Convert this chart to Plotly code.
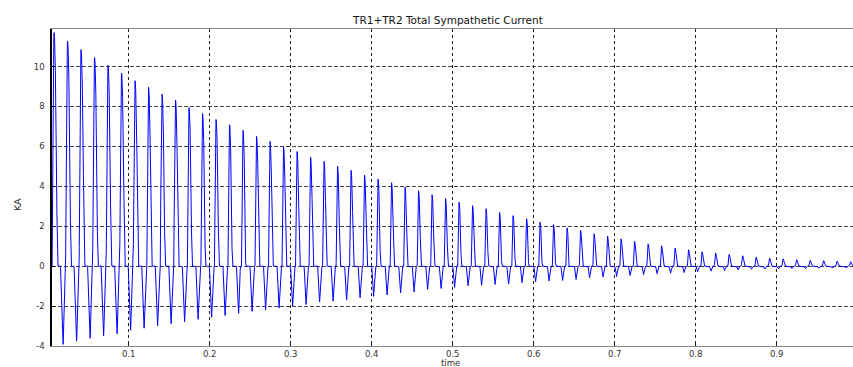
import numpy as np
import plotly.graph_objects as go

# Peak of each positive lobe, one per 60 Hz cycle (kA)
pos_peak = [11.70, 11.28, 10.85, 10.45, 10.06, 9.67, 9.29, 8.96, 8.62, 8.31,
            7.95, 7.65, 7.35, 7.09, 6.80, 6.50, 6.25, 5.98, 5.74, 5.46,
            5.25, 5.01, 4.80, 4.56, 4.36, 4.18, 3.96, 3.78, 3.58, 3.39,
            3.21, 3.03, 2.88, 2.69, 2.53, 2.38, 2.21, 2.08, 1.92, 1.79,
            1.62, 1.50, 1.37, 1.24, 1.12, 1.02, 0.90, 0.82, 0.72, 0.65,
            0.59, 0.52, 0.45, 0.40, 0.37, 0.32, 0.29, 0.27, 0.25, 0.22]

# Peak of each negative lobe, one per cycle (kA)
neg_peak = [-3.92, -3.76, -3.62, -3.49, -3.39, -3.22, -3.11, -2.99, -2.89, -2.79,
            -2.67, -2.57, -2.47, -2.37, -2.27, -2.19, -2.10, -2.00, -1.92, -1.80,
            -1.76, -1.70, -1.59, -1.52, -1.44, -1.34, -1.30, -1.16, -1.12, -1.07,
            -0.98, -0.96, -0.92, -0.90, -0.83, -0.79, -0.74, -0.72, -0.67, -0.58,
            -0.55, -0.52, -0.47, -0.42, -0.38, -0.35, -0.32, -0.28, -0.25, -0.22,
            -0.18, -0.15, -0.14, -0.13, -0.12, -0.12, -0.10, -0.10, -0.09, -0.08]

x_ticks = [0.1, 0.2, 0.3, 0.4, 0.5, 0.6, 0.7, 0.8, 0.9]
y_ticks = [-4, -2, 0, 2, 4, 6, 8, 10]

FREQ = 60.0          # supply frequency, Hz
POS_PHASE = 0.47     # positive lobe position within the cycle
NEG_PHASE = 1.14     # negative lobe position (TR2), cycles after start


def lobe(t, tp, amp, w_rise, w_fall, p):
    """Saturation current pulse centred at tp with separate rise/fall widths."""
    u = np.where(t < tp, (tp - t) / w_rise, (t - tp) / w_fall)
    out = np.zeros_like(t)
    m = u < 1
    out[m] = amp * (1.0 - u[m] ** p)
    return out


t = np.arange(0.0040, 0.9950, 0.00005)
current = np.zeros_like(t)
for k, (pp, npk) in enumerate(zip(pos_peak, neg_peak)):
    tp = (k + POS_PHASE) / FREQ
    wp = 0.0017 + 0.0015 * (pp / pos_peak[0])
    current += lobe(t, tp, pp, 0.75 * wp, 1.25 * wp, 2.0)
    tn = (k + NEG_PHASE) / FREQ
    wn = 0.0016 + 0.0013 * (npk / neg_peak[0])
    current += lobe(t, tn, npk, 1.1 * wn, 0.9 * wn, 1.2)

fig = go.Figure()
fig.add_trace(go.Scatter(
    x=t, y=current, mode="lines",
    line=dict(color="rgb(0,0,255)", width=1),
    hoverinfo="skip", showlegend=False,
))

tick_font = dict(family="DejaVu Sans, Arial, sans-serif", size=8.5, color="#333333")

fig.update_layout(
    width=853, height=367,
    margin=dict(l=52, r=0, t=29, b=21),
    paper_bgcolor="white", plot_bgcolor="white",
    xaxis=dict(
        range=[0.0053, 0.9942], tickvals=x_ticks,
        ticktext=[f"{v:g}" for v in x_ticks],
        showgrid=True, gridcolor="#222222", griddash="dot", gridwidth=1,
        zeroline=False, showline=True, linecolor="#888888", linewidth=1,
        mirror=True, ticks="inside", ticklen=3, tickcolor="#222222",
        tickfont=tick_font, ticklabelstandoff=0,
    ),
    yaxis=dict(
        range=[-4, 11.88], tickvals=y_ticks,
        ticktext=[str(v) for v in y_ticks],
        showgrid=True, gridcolor="#444444", griddash="4px,2px", gridwidth=1,
        zeroline=False, showline=True, linecolor="black", linewidth=1.5,
        ticks="inside", ticklen=3, tickcolor="black",
        tickfont=tick_font, ticklabelstandoff=4,
    ),
    annotations=[
        dict(text="TR1+TR2 Total Sympathetic Current", xref="paper", yref="paper",
             x=(447 - 52) / 801, y=(346 - 20) / 317, xanchor="center", yanchor="middle",
             showarrow=False,
             font=dict(family="DejaVu Sans, Arial, sans-serif", size=10.5, color="#111111")),
        dict(text="time", xref="paper", yref="paper",
             x=(450 - 52) / 801, y=(346 - 363) / 317, xanchor="center", yanchor="middle",
             showarrow=False,
             font=dict(family="DejaVu Sans, Arial, sans-serif", size=8.5, color="#333333")),
        dict(text="KA", xref="paper", yref="paper", textangle=-90,
             x=(17 - 52) / 801, y=(346 - 205) / 317, xanchor="center", yanchor="middle",
             showarrow=False,
             font=dict(family="DejaVu Sans, Arial, sans-serif", size=9.5, color="#333333")),
    ],
)

fig.write_html("out.html")
